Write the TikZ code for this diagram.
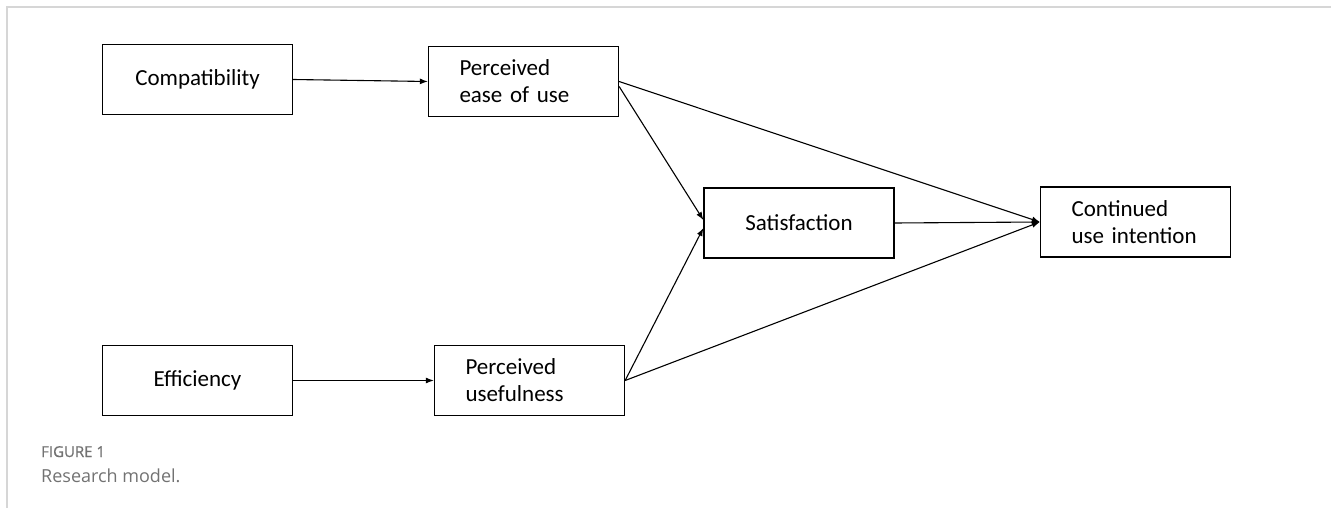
\documentclass[tikz,border=0pt]{standalone}
\usepackage{fontspec}
\setmainfont{Carlito}
\newfontfamily\captionfont{Open Sans}
\newfontfamily\figlabelfont{Open Sans}[FakeBold=0.8]
\usepackage{xcolor}
\usetikzlibrary{positioning, arrows.meta}

\definecolor{framegray}{HTML}{D6D6D6}
\definecolor{capgray}{HTML}{727272}

\tikzset{
  factor/.style={draw, line width=1.3pt, minimum width=190pt, minimum height=70pt,
    inner sep=0pt, align=center, font=\fontsize{23}{27}\selectfont},
  twoline/.style={factor, align=left, text width=128pt, inner xsep=31pt},
  link/.style={-{Latex[length=8pt,width=6pt]}, line width=1.1pt}
}

\begin{document}
\begin{tikzpicture}[x=1pt, y=-1pt]
    \useasboundingbox (0,0) rectangle (1331,508);

    % Frame of the figure
    \draw[framegray, line width=1.6pt] (7,508) -- (7,7) -- (1331,7);

    % Constructs
    \node[factor] (comp) at (197.5,79.5) {Compatibility};
    \node[twoline] (peou) at (523.5,81.5) {Perceived\\ease of use};
    \node[factor] (eff) at (197.5,380.5) {Efficiency};
    \node[twoline] (pu) at (529.5,380.5) {Perceived\\usefulness};
    \node[factor] (sat) at (799,223) {Satisfaction};
    \node[twoline] (cont) at (1135.5,222) {Continued\\use intention};

    % Paths
    \draw[link] (comp.east) -- (peou.west);
    \draw[link] (eff.east) -- (pu.west);
    \draw[link] (peou.east) -- (cont.west);
    \draw[link] ([yshift=-5pt]peou.east) -- ([yshift=3pt]sat.west);
    \draw[link] (pu.east) -- ([yshift=-5pt]sat.west);
    \draw[link] (pu.east) -- (cont.west);
    \draw[link] (sat.east) -- (cont.west);

    % Caption
    \node[anchor=base west, inner sep=0pt, text=capgray, font=\figlabelfont\fontsize{15}{17}\selectfont] (figno) at (41,457) {FIGURE 1};
    \node[anchor=base west, inner sep=0pt, text=capgray, font=\captionfont\fontsize{18}{20}\selectfont] (figcap) at (41,482) {Research model.};

\end{tikzpicture}
\end{document}
